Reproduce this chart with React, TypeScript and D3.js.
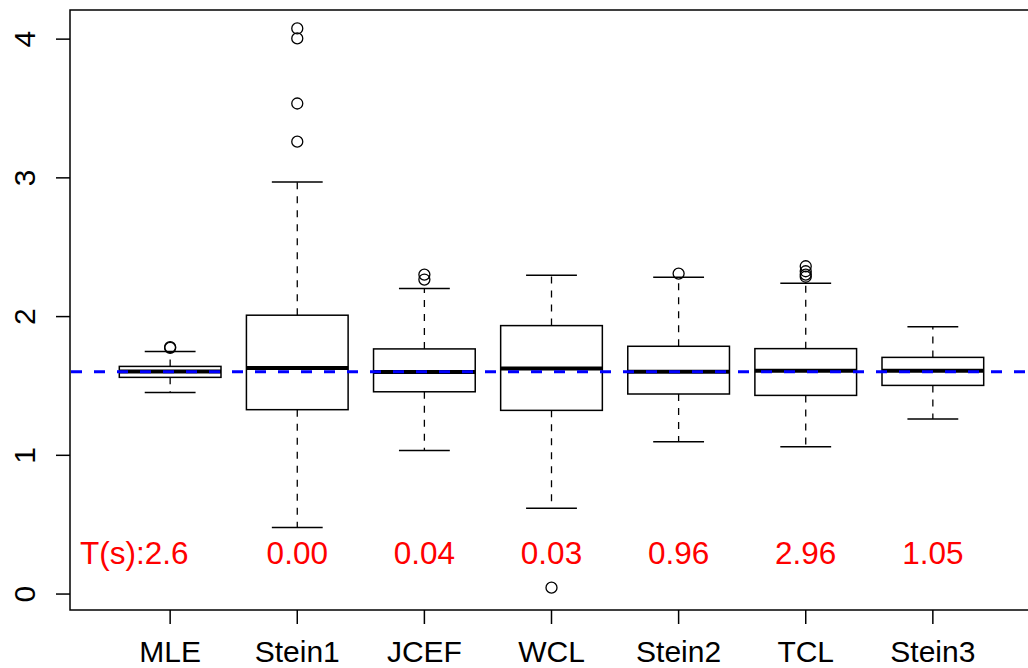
import React from "react";
import * as d3 from "d3";

const categories = ["MLE", "Stein1", "JCEF", "WCL", "Stein2", "TCL", "Stein3"];
// [lowerWhisker, q1, median, q3, upperWhisker]
const boxStats: number[][] = [
  [1.453, 1.562, 1.605, 1.641, 1.749],
  [0.479, 1.329, 1.63, 2.01, 2.97],
  [1.035, 1.458, 1.6, 1.767, 2.202],
  [0.619, 1.324, 1.625, 1.935, 2.298],
  [1.097, 1.442, 1.603, 1.786, 2.284],
  [1.061, 1.432, 1.61, 1.769, 2.24],
  [1.261, 1.504, 1.61, 1.706, 1.926],
];
const outliers: number[][] = [
  [1.774, 1.78],
  [4.077, 4.005, 3.536, 3.261],
  [2.303, 2.267],
  [0.046],
  [2.31],
  [2.363, 2.327, 2.303, 2.287],
  [],
];
const tsLabels = ["T(s):2.6", "0.00", "0.04", "0.03", "0.96", "2.96", "1.05"];
const yTicks = [0, 1, 2, 3, 4];
const refLine = 1.603;

const W = 1028;
const H = 668;

export default function App() {
  const x = d3.scaleLinear().domain([0.22, 7.78]).range([71, 1032]);
  const y = d3.scaleLinear().domain([-0.115, 4.21]).range([610, 10]);
  const unit = x(2) - x(1);
  const hw = 0.4 * unit;
  const sw = 0.2 * unit;
  const font = "'Liberation Sans', Arial, sans-serif";

  return (
    <svg
      width={W}
      height={H}
      style={{ position: "absolute", left: 0, top: 0, background: "#fff" }}
      fontFamily={font}
    >
      <rect x={0} y={0} width={W} height={H} fill="#fff" />
      {categories.map((c, i) => {
        const cx = x(i + 1);
        const [lw, q1, md, q3, uw] = boxStats[i];
        return (
          <g key={c}>
            <line x1={cx} x2={cx} y1={y(q3)} y2={y(uw)} stroke="#000" strokeWidth={1.3} strokeDasharray="7,7" />
            <line x1={cx} x2={cx} y1={y(q1)} y2={y(lw)} stroke="#000" strokeWidth={1.3} strokeDasharray="7,7" />
            <line x1={cx - sw} x2={cx + sw} y1={y(uw)} y2={y(uw)} stroke="#000" strokeWidth={1.5} />
            <line x1={cx - sw} x2={cx + sw} y1={y(lw)} y2={y(lw)} stroke="#000" strokeWidth={1.5} />
            <rect x={cx - hw} y={y(q3)} width={2 * hw} height={y(q1) - y(q3)} fill="#fff" stroke="#000" strokeWidth={1.5} />
            <line x1={cx - hw} x2={cx + hw} y1={y(md)} y2={y(md)} stroke="#000" strokeWidth={4} />
            {outliers[i].map((o, j) => (
              <circle key={j} cx={cx} cy={y(o)} r={5.5} fill="none" stroke="#000" strokeWidth={1.3} />
            ))}
          </g>
        );
      })}
      <line x1={71} x2={1032} y1={y(refLine)} y2={y(refLine)} stroke="#0000ff" strokeWidth={3} strokeDasharray="11,12" />
      {tsLabels.map((t, i) =>
        i === 0 ? (
          <text key={i} x={80} y={564} fontSize={31.5} fill="#ff0000" textAnchor="start">{t}</text>
        ) : (
          <text key={i} x={x(i + 1)} y={564} fontSize={31.5} fill="#ff0000" textAnchor="middle">{t}</text>
        )
      )}
      {/* frame */}
      <rect x={70} y={10} width={x(7.78) - 70} height={600} fill="none" stroke="#000" strokeWidth={1.5} />
      {/* y axis */}
      {yTicks.map((t) => (
        <g key={t}>
          <line x1={56} x2={70} y1={y(t)} y2={y(t)} stroke="#000" strokeWidth={1.5} />
          <text
            transform={`translate(35,${y(t)}) rotate(-90)`}
            textAnchor="middle"
            fontSize={30}
            fill="#000"
          >
            {t}
          </text>
        </g>
      ))}
      {/* x axis */}
      {categories.map((c, i) => (
        <g key={c}>
          <line x1={x(i + 1)} x2={x(i + 1)} y1={610} y2={624} stroke="#000" strokeWidth={1.5} />
          <text x={x(i + 1)} y={662} textAnchor="middle" fontSize={30} fill="#000">{c}</text>
        </g>
      ))}
    </svg>
  );
}
